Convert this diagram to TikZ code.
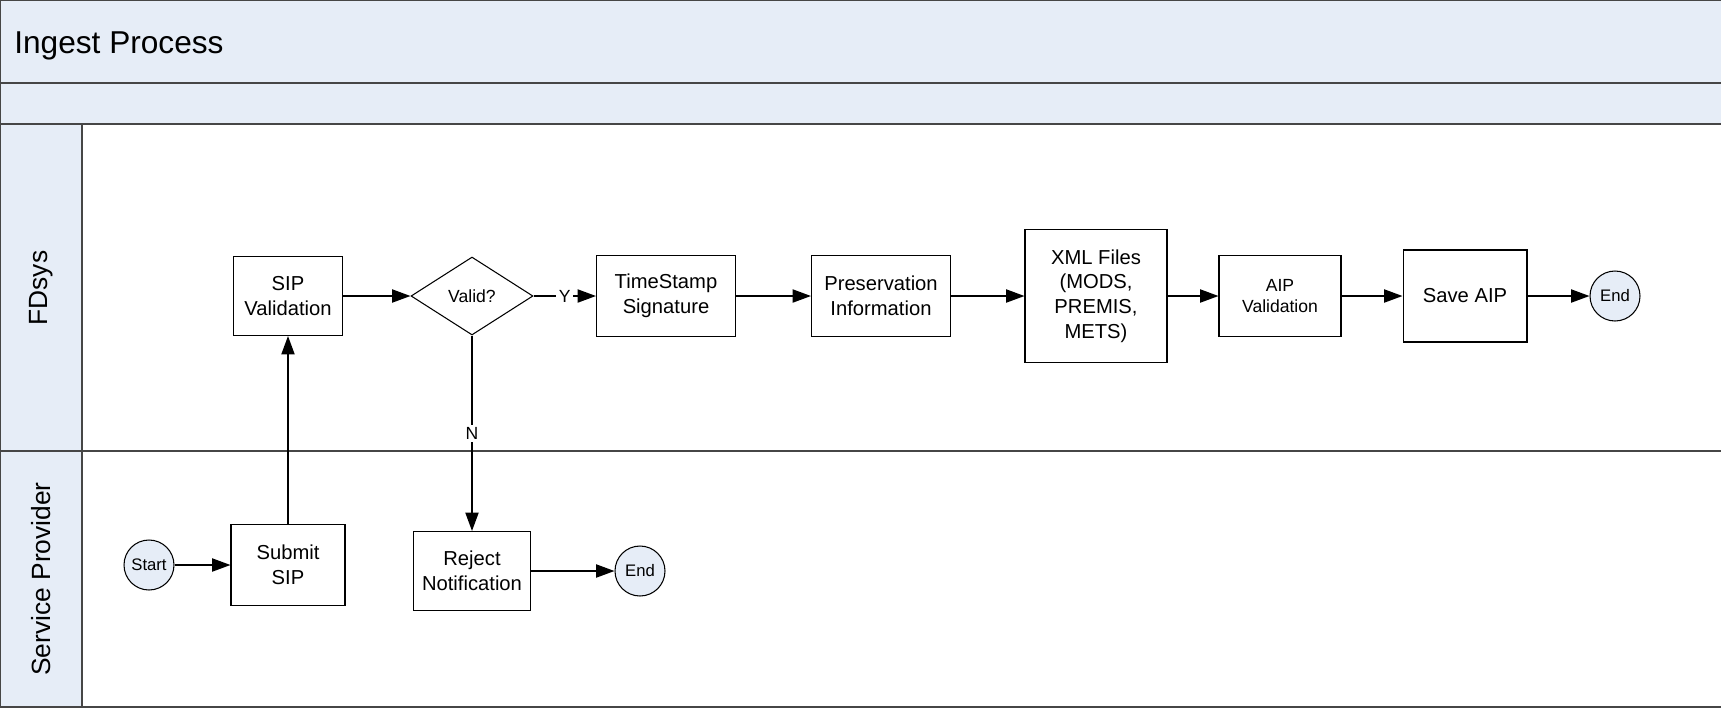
\documentclass[tikz,border=0pt]{standalone}
\usepackage{fontspec}
\setmainfont{Liberation Sans}
\usetikzlibrary{shapes.geometric, arrows.meta, positioning}
\definecolor{lanefill}{RGB}{230,237,247}
\definecolor{laneline}{RGB}{70,70,70}
\tikzstyle{process} = [rectangle, draw, line width=0.6pt, align=center, inner sep=2pt, font=\fontsize{11.5}{14}\selectfont]
\tikzstyle{decision} = [diamond, draw, line width=0.6pt, inner sep=0pt, font=\fontsize{10}{12}\selectfont]
\tikzstyle{terminal} = [circle, draw, line width=0.6pt, fill=lanefill, minimum size=1cm, inner sep=0pt, font=\fontsize{9.5}{11}\selectfont]
\tikzstyle{flow} = [-{Triangle[length=10.5pt, width=7.5pt]}, line width=0.9pt]
\tikzstyle{answer} = [fill=white, inner sep=1.5pt, font=\fontsize{10}{12}\selectfont]
\tikzstyle{lanebox} = [fill=lanefill, draw=laneline, line width=0.9pt]
\tikzstyle{lanelabel} = [rotate=90, font=\fontsize{15}{18}\selectfont]

\begin{document}
\begin{tikzpicture}[x=0.02cm, y=-0.02cm]
        \useasboundingbox (0, 0) rectangle (1721, 708);
        % pool and lanes (right edge runs off the page)
        \draw[lanebox] (0, 0) rectangle (1740, 83);
        \draw[lanebox] (0, 83) rectangle (1740, 124);
        \draw[draw=laneline, line width=0.9pt] (82, 124) rectangle (1740, 707);
        \draw[lanebox] (0, 124) rectangle (82, 451);
        \draw[lanebox] (0, 451) rectangle (82, 707);
        \draw[draw=laneline, line width=0.9pt] (82, 451) -- (1740, 451);
        \node[anchor=west, inner sep=0pt, font=\fontsize{18}{22}\selectfont] at (14, 46) (Title) {Ingest Process};
        \node[lanelabel] at (41, 288) (FDsys) {FDsys};
        \node[lanelabel] at (41, 579) (ServiceProvider) {Service Provider};

        % FDsys lane
        \node[process, minimum width=2.18cm, minimum height=1.58cm] at (288, 296) (SIPValidation) {SIP\\Validation};
        \node[decision, minimum width=2.44cm, minimum height=1.56cm] at (472, 296) (Valid) {Valid?};
        \node[process, minimum width=2.78cm, minimum height=1.62cm] at (666, 296) (TimeStamp) {TimeStamp\\Signature};
        \node[process, minimum width=2.78cm, minimum height=1.62cm] at (881, 296) (Preservation) {Preservation\\Information};
        \node[process, minimum width=2.84cm, minimum height=2.66cm] at (1096, 296) (XMLFiles) {XML Files\\(MODS,\\PREMIS,\\METS)};
        \node[process, minimum width=2.44cm, minimum height=1.62cm, font=\fontsize{10}{12}\selectfont] at (1280, 296) (AIPValidation) {AIP\\Validation};
        \node[process, minimum width=2.48cm, minimum height=1.84cm] at (1465, 296) (SaveAIP) {Save AIP};
        \node[terminal] at (1615, 296) (EndStored) {End};

        % Service Provider lane
        \node[terminal] at (149, 565) (Start) {Start};
        \node[process, minimum width=2.28cm, minimum height=1.62cm] at (288, 565) (SubmitSIP) {Submit\\SIP};
        \node[process, minimum width=2.34cm, minimum height=1.58cm] at (472, 571) (Reject) {Reject\\Notification};
        \node[terminal] at (640, 571) (EndRejected) {End};

        \draw[flow] (Start) -- (SubmitSIP);
        \draw[flow] (SubmitSIP) -- (SIPValidation);
        \draw[flow] (SIPValidation) -- (Valid);
        \draw[flow] (Valid) -- node[answer] (Yes) {Y} (TimeStamp);
        \draw[flow] (Valid) -- node[answer] (No) {N} (Reject);
        \draw[flow] (Reject) -- (EndRejected);
        \draw[flow] (TimeStamp) -- (Preservation);
        \draw[flow] (Preservation) -- (XMLFiles);
        \draw[flow] (XMLFiles) -- (AIPValidation);
        \draw[flow] (AIPValidation) -- (SaveAIP);
        \draw[flow] (SaveAIP) -- (EndStored);
    \end{tikzpicture}
\end{document}
